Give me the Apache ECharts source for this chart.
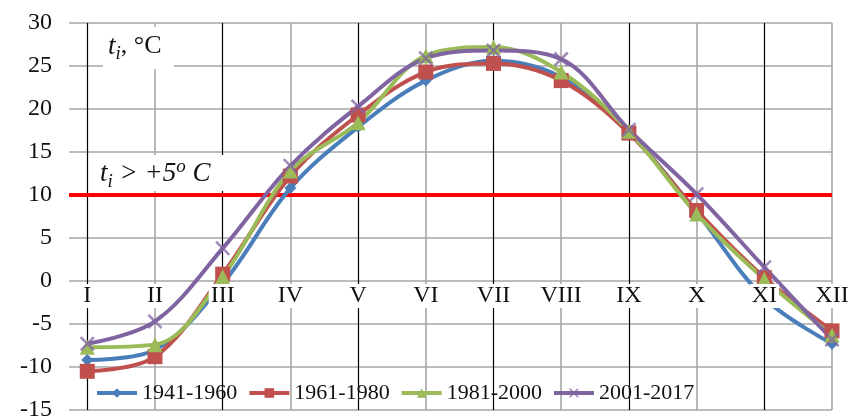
<!DOCTYPE html>
<html><head><meta charset="utf-8">
<script src="https://cdn.jsdelivr.net/npm/echarts@6/dist/echarts.min.js"></script>
<style>html,body{margin:0;padding:0;background:#fff}#c{width:853px;height:416px}</style>
</head><body><div id="c"></div>
<script>
const months = ['I','II','III','IV','V','VI','VII','VIII','IX','X','XI','XII'];
const s1941 = [-9.2, -8.0, -0.3, 10.8, 17.9, 23.3, 25.6, 23.7, 17.3, 8.0, -2.0, -7.3];
const s1961 = [-10.5, -8.8, 0.8, 12.2, 19.3, 24.3, 25.3, 23.3, 17.2, 8.2, 0.4, -5.8];
const s1981 = [-7.7, -7.4, 0.5, 12.8, 18.4, 26.2, 27.2, 24.3, 17.4, 7.8, 0.2, -6.3];
const s2001 = [-7.3, -4.7, 3.8, 13.4, 20.3, 25.9, 26.8, 25.8, 17.6, 10.1, 1.6, -6.8];
const names = ['1941-1960','1961-1980','1981-2000','2001-2017'];
const threshold = 10;
const yTicks = {min: -15, max: 30, step: 5};

const serif = '"Liberation Serif", "DejaVu Serif", serif';
const xMark = 'path://M0,1.2 L1.2,0 L5,3.8 L8.8,0 L10,1.2 L6.2,5 L10,8.8 L8.8,10 L5,6.2 L1.2,10 L0,8.8 L3.8,5 Z';
const styles = [
  {color:'#4a7ebb', symbol:'diamond', size:12},
  {color:'#c0504d', symbol:'rect', size:15},
  {color:'#9bbb59', symbol:'triangle', size:15},
  {color:'#8064a2', symbol:xMark, size:15}
];
const all = [s1941, s1961, s1981, s2001];
const series = all.map((s, k) => ({
  name: names[k], type: 'line', smooth: 0.35, z: 3,
  data: s.map((v, i) => [i + 1, v]),
  symbol: styles[k].symbol, symbolSize: styles[k].size, showSymbol: true,
  itemStyle: {color: styles[k].color, opacity: k === 3 ? 0.75 : 1},
  lineStyle: {color: styles[k].color, width: 4}
}));
series.unshift({
  type: 'line', data: [], z: 1, silent: true,
  markLine: {
    silent: true, symbol: ['none','none'], label: {show: false}, z: 1,
    animation: false,
    data: months.map((m, i) => ({xAxis: i + 1, lineStyle: {type:'solid', color: i % 2 === 0 ? '#000' : '#a6a6a6', width: i % 2 === 0 ? 1.2 : 1.6}}))
      .concat([{yAxis: threshold, lineStyle: {type:'solid', color:'#ff0000', width: 4}}])
  }
});

const chart = echarts.init(document.getElementById('c'), null, {renderer:'canvas'});
chart.setOption({
  animation: false,
  grid: {left: 69, right: 21, top: 23, bottom: 6, containLabel: false, outerBoundsMode: 'none'},
  xAxis: {
    type: 'value', min: 0.73, max: 12, position: 'bottom', offset: -130, z: 20,
    axisLine: {show: false, onZero: false},
    axisTick: {show: false},
    splitLine: {show: false},
    axisLabel: {
      show: true,
      customValues: months.map((m, i) => i + 1),
      formatter: v => months[Math.round(v) - 1] || '',
      fontFamily: serif, fontSize: 24, color: '#111', margin: 4,
      backgroundColor: '#fff', padding: [0, 2, 0, 2]
    }
  },
  yAxis: {
    type: 'value', min: yTicks.min, max: yTicks.max, interval: yTicks.step,
    axisLine: {show: false}, axisTick: {show: false},
    splitLine: {lineStyle: {color: '#a6a6a6', width: 1.6}},
    axisLabel: {fontFamily: serif, fontSize: 24, color: '#111', margin: 17}
  },
  legend: {
    data: names, left: 90, top: 377, itemWidth: 40, itemHeight: 12, itemGap: 10,
    lineStyle: {width: 4},
    textStyle: {fontFamily: serif, fontSize: 22, color: '#111'}
  },
  series: series,
  graphic: [
    {type:'rect', left: 103, top: 27, shape:{width: 71, height: 42}, style:{fill:'#fff'}, z: 50},
    {type:'text', left: 108, top: 33, z: 51, style:{
      text: '{t|t}{s|i}{n|, °C}',
      rich: {
        t: {fontFamily: serif, fontStyle:'italic', fontSize: 27, fill:'#111', lineHeight: 34, verticalAlign:'middle'},
        s: {fontFamily: serif, fontStyle:'italic', fontSize: 19, fill:'#111', padding:[13,0,0,0], verticalAlign:'bottom'},
        n: {fontFamily: serif, fontSize: 26, fill:'#111', verticalAlign:'middle'}
      }
    }},
    {type:'rect', left: 93, top: 155, shape:{width: 150, height: 36}, style:{fill:'#fff'}, z: 50},
    {type:'text', left: 100, top: 157, z: 51, style:{
      text: '{t|t}{s|i}{n| > +5}{o|o}{c| C}',
      rich: {
        t: {fontFamily: serif, fontStyle:'italic', fontSize: 27, fill:'#111', lineHeight: 34, verticalAlign:'middle'},
        s: {fontFamily: serif, fontStyle:'italic', fontSize: 19, fill:'#111', padding:[13,0,0,0], verticalAlign:'bottom'},
        n: {fontFamily: serif, fontStyle:'italic', fontSize: 27, fill:'#111', verticalAlign:'middle'},
        o: {fontFamily: serif, fontStyle:'italic', fontSize: 19, fill:'#111', padding:[0,0,13,0], verticalAlign:'top'},
        c: {fontFamily: serif, fontStyle:'italic', fontSize: 27, fill:'#111', verticalAlign:'middle'}
      }
    }}
  ]
});
</script>
</body></html>
